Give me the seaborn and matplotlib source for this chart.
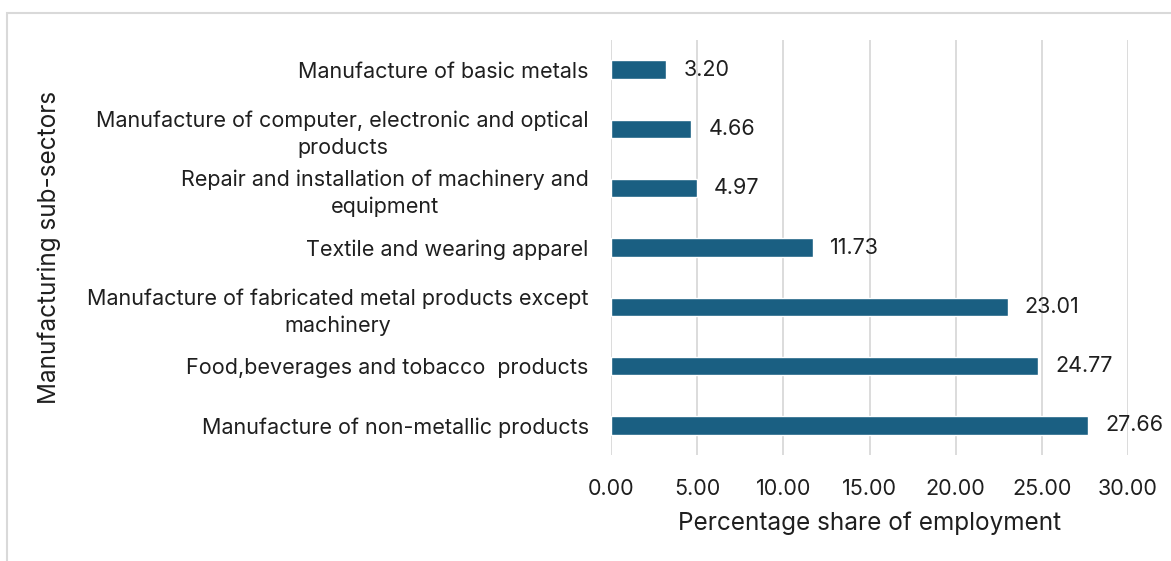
import matplotlib
matplotlib.use("Agg")
import matplotlib.pyplot as plt
import seaborn as sns
import pandas as pd

sectors = [
    "Manufacture of basic metals",
    "Manufacture of computer, electronic and optical\nproducts",
    "Repair and installation of machinery and\nequipment",
    "Textile and wearing apparel",
    "Manufacture of fabricated metal products except\nmachinery",
    "Food,beverages and tobacco  products",
    "Manufacture of non-metallic products",
]
shares = [3.20, 4.66, 4.97, 11.73, 23.01, 24.77, 27.66]
x_ticks = [0, 5, 10, 15, 20, 25, 30]

sns.set_theme(style="white")
plt.rcParams["font.family"] = ["Inter", "DejaVu Sans"]

df = pd.DataFrame({"sector": sectors, "share": shares})

fig = plt.figure(figsize=(11.71, 5.61), dpi=100)
ax = fig.add_axes([611 / 1171, 1 - 455 / 561, (1128 - 611) / 1171, (455 - 40) / 561])

sns.barplot(data=df, x="share", y="sector", orient="h", color="#1a5f82",
            saturation=1, width=0.31, ax=ax, zorder=3)

ax.set_xlim(0, 30)
ax.set_ylim(6.5, -0.5)
ax.set_xticks(x_ticks)
ax.set_xticklabels([f"{t:.2f}" for t in x_ticks], fontsize=15.5, color="#1f1f1f")
ax.tick_params(axis="y", labelsize=15.5, colors="#1f1f1f", length=0, pad=16)
ax.tick_params(axis="x", length=0, pad=17)
for lbl in ax.get_yticklabels():
    lbl.set_multialignment("center")
    lbl.set_linespacing(1.4)

ax.xaxis.grid(True, color="#d9d9d9", linewidth=1.3, zorder=0)
ax.yaxis.grid(False)
for s in ax.spines.values():
    s.set_visible(False)

for i, v in enumerate(shares):
    ax.text(v + 1.0, i, f"{v:.2f}", va="center", ha="left", fontsize=15.5, color="#1f1f1f")

ax.set_xlabel("Percentage share of employment", fontsize=17.5, color="#1f1f1f", labelpad=9)
ax.set_ylabel("Manufacturing sub-sectors", fontsize=17.5, color="#1f1f1f")
ax.yaxis.set_label_coords((61 - 611) / 517, 0.5)

# light frame around the chart area
frame = plt.Rectangle((7 / 1171, -0.01), 1.02, 1 - 13 / 561 + 0.01, transform=fig.transFigure,
                      fill=False, edgecolor="#d9d9d9", linewidth=1.5, clip_on=False)
fig.patches.append(frame)

fig.savefig("out.png", dpi=100)
